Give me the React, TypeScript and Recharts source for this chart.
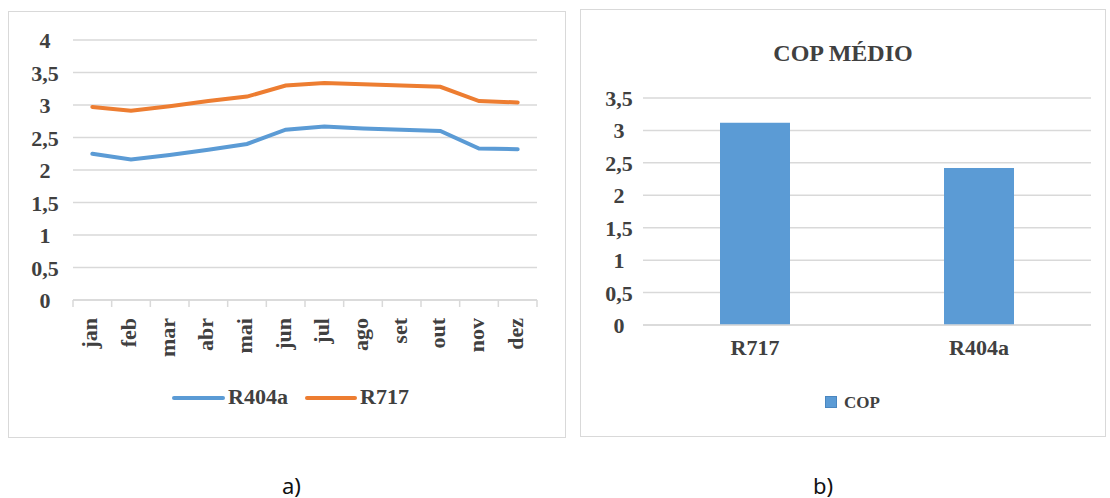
import { Bar, BarChart, CartesianGrid, Line, LineChart, XAxis, YAxis } from "recharts";

const MONTHS = ["jan", "feb", "mar", "abr", "mai", "jun", "jul", "ago", "set", "out", "nov", "dez"];
const R404A = [2.25, 2.16, 2.23, 2.31, 2.4, 2.62, 2.67, 2.64, 2.62, 2.6, 2.33, 2.32];
const R717 = [2.97, 2.91, 2.98, 3.06, 3.13, 3.3, 3.34, 3.32, 3.3, 3.28, 3.06, 3.04];
const LINE_TICKS = [0, 0.5, 1, 1.5, 2, 2.5, 3, 3.5, 4];

const FLUIDS = ["R717", "R404a"];
const COP = [3.12, 2.42];
const BAR_TICKS = [0, 0.5, 1, 1.5, 2, 2.5, 3, 3.5];

const BLUE = "#5b9bd5";
const ORANGE = "#ed7d31";
const GRID = "#d9d9d9";
const TEXT = "#404040";
const SERIF = "'Liberation Serif', 'Times New Roman', serif";

const lineData = MONTHS.map((m, i) => ({ month: m, r404a: R404A[i], r717: R717[i] }));
const barData = FLUIDS.map((f, i) => ({ name: f, cop: COP[i] }));

const fmt = (v: number) => String(v).replace(".", ",");

// y labels are centred in a column left of the plot, like the Excel original
const YTick = (props: any) => {
  const { x, y, payload } = props;
  return (
    <text x={x} y={y} dy={8} textAnchor="middle" fill={TEXT} fontFamily={SERIF} fontWeight="bold" fontSize={22}>
      {fmt(payload.value)}
    </text>
  );
};

const MonthTick = (props: any) => {
  const { x, y, payload, index } = props;
  const off = payload.offset || 19.35;
  const last = index === MONTHS.length - 1;
  return (
    <g>
      <line x1={x - off} y1={y} x2={x - off} y2={y + 7} stroke={GRID} strokeWidth={1.5} />
      {last && <line x1={x + off} y1={y} x2={x + off} y2={y + 7} stroke={GRID} strokeWidth={1.5} />}
      <text
        transform={`translate(${x},${y + 18}) rotate(-90)`}
        dy={5}
        textAnchor="end"
        fill={TEXT}
        fontFamily={SERIF}
        fontWeight="bold"
        fontSize={22}
      >
        {payload.value}
      </text>
    </g>
  );
};

const FluidTick = (props: any) => {
  const { x, y, payload } = props;
  return (
    <text x={x} y={y} dy={30} textAnchor="middle" fill={TEXT} fontFamily={SERIF} fontWeight="bold" fontSize={22}>
      {payload.value}
    </text>
  );
};

const boxStyle = {
  position: "absolute" as const,
  border: `1px solid ${GRID}`,
  boxSizing: "border-box" as const,
  background: "#fff",
};

const legendText = {
  position: "absolute" as const,
  fontFamily: SERIF,
  fontWeight: "bold" as const,
  color: TEXT,
  lineHeight: 1,
};

const caption = {
  position: "absolute" as const,
  top: 474,
  fontFamily: "'Noto Sans', sans-serif",
  fontSize: 22,
  lineHeight: 1,
  color: "#111",
};

export default function App() {
  return (
    <div style={{ position: "absolute", left: 0, top: 0, width: 1110, height: 498, background: "#fff" }}>
      {/* a) monthly COP */}
      <div style={{ ...boxStyle, left: 8, top: 11, width: 558, height: 427 }}>
        <LineChart width={556} height={425} data={lineData} margin={{ top: 28, right: 28, bottom: 77, left: 8 }}>
          <CartesianGrid vertical={false} stroke={GRID} strokeWidth={1.5} />
          <XAxis
            dataKey="month"
            scale="band"
            height={60}
            tickLine={false}
            tickSize={0}
            tickMargin={0}
            axisLine={{ stroke: GRID, strokeWidth: 1.5 }}
            tick={MonthTick}
            interval={0}
          />
          <YAxis
            width={56}
            domain={[0, 4]}
            ticks={LINE_TICKS}
            axisLine={false}
            tickLine={false}
            tickSize={0}
            tickMargin={28}
            tick={YTick}
          />
          <Line dataKey="r404a" name="R404a" stroke={BLUE} strokeWidth={4} dot={false} strokeLinecap="round" isAnimationActive={false} />
          <Line dataKey="r717" name="R717" stroke={ORANGE} strokeWidth={4} dot={false} strokeLinecap="round" isAnimationActive={false} />
        </LineChart>
      </div>
      <div style={{ position: "absolute", left: 172, top: 396, width: 53, height: 4, borderRadius: 2, background: BLUE }} />
      <div style={{ ...legendText, left: 228, top: 386, fontSize: 22 }}>R404a</div>
      <div style={{ position: "absolute", left: 305, top: 396, width: 52, height: 4, borderRadius: 2, background: ORANGE }} />
      <div style={{ ...legendText, left: 360, top: 386, fontSize: 22 }}>R717</div>

      {/* b) average COP */}
      <div style={{ ...boxStyle, left: 580, top: 9, width: 526, height: 428 }}>
        <BarChart width={524} height={426} data={barData} margin={{ top: 88, right: 14, bottom: 71, left: 8 }}>
          <CartesianGrid vertical={false} stroke={GRID} strokeWidth={1.5} />
          <XAxis
            dataKey="name"
            height={40}
            tickLine={false}
            tickSize={0}
            tickMargin={0}
            axisLine={{ stroke: GRID, strokeWidth: 1.5 }}
            tick={FluidTick}
          />
          <YAxis
            width={54}
            domain={[0, 3.5]}
            ticks={BAR_TICKS}
            axisLine={false}
            tickLine={false}
            tickSize={0}
            tickMargin={24}
            tick={YTick}
          />
          <Bar dataKey="cop" name="COP" fill={BLUE} barSize={70} isAnimationActive={false} />
        </BarChart>
      </div>
      <div style={{ ...legendText, left: 580, width: 526, top: 41, textAlign: "center", fontSize: 24 }}>
        COP MÉDIO
      </div>
      <div
        style={{
          position: "absolute",
          left: 825,
          top: 396,
          width: 12,
          height: 12,
          boxSizing: "border-box",
          background: BLUE,
          border: "1px solid #4a86bf",
        }}
      />
      <div style={{ ...legendText, left: 844, top: 394, fontSize: 17 }}>COP</div>

      {/* captions */}
      <div style={{ ...caption, left: 282 }}>a)</div>
      <div style={{ ...caption, left: 813 }}>b)</div>
    </div>
  );
}
